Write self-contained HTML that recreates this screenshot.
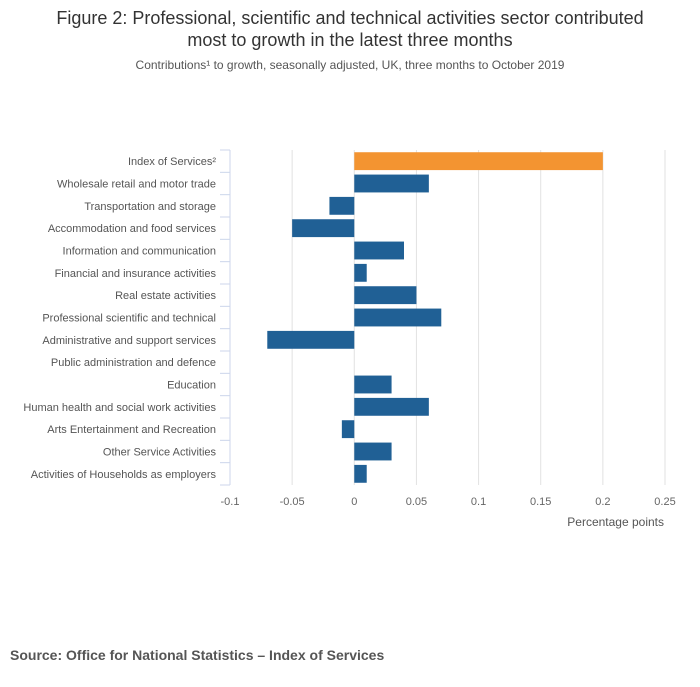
<!DOCTYPE html>
<html><head><meta charset="utf-8"><style>
body{margin:0;background:#fff;width:700px;height:682px;overflow:hidden;font-family:"Liberation Sans",sans-serif}
</style></head><body>
<svg width="700" height="682">
<text x="350" y="24" text-anchor="middle" font-size="18" fill="#333">Figure 2: Professional, scientific and technical activities sector contributed</text>
<text x="350" y="46" text-anchor="middle" font-size="18" fill="#333">most to growth in the latest three months</text>
<text x="350" y="69" text-anchor="middle" font-size="12" fill="#555">Contributions¹ to growth, seasonally adjusted, UK, three months to October 2019</text>
<g id="grid"></g><g id="bars"></g><g id="axes"></g>
<text x="664" y="526" text-anchor="end" font-size="12" fill="#555">Percentage points</text>
<text x="10" y="660" font-size="14" font-weight="bold" fill="#555">Source:  Office for National Statistics – Index of Services</text>
</svg>
<script>
const categories=["Index of Services²","Wholesale retail and motor trade","Transportation and storage","Accommodation and food services","Information and communication","Financial and insurance activities","Real estate activities","Professional scientific and technical","Administrative and support services","Public administration and defence","Education","Human health and social work activities","Arts Entertainment and Recreation","Other Service Activities","Activities of Households as employers"];
const values=[0.2,0.06,-0.02,-0.05,0.04,0.01,0.05,0.07,-0.07,0,0.03,0.06,-0.01,0.03,0.01];
const ticks=[-0.1,-0.05,0,0.05,0.1,0.15,0.2,0.25];
const tickLabels=["-0.1","-0.05","0","0.05","0.1","0.15","0.2","0.25"];
const NS="http://www.w3.org/2000/svg";
const x0=230,x1=665,vmin=-0.1,vmax=0.25,plotTop=150,plotBot=485;
const band=(plotBot-plotTop)/categories.length;
const X=v=>x0+(v-vmin)/(vmax-vmin)*(x1-x0);
const Y=i=>plotTop+i*band;
function mk(t,a,p){const e=document.createElementNS(NS,t);for(const k in a)e.setAttribute(k,a[k]);p.appendChild(e);return e;}
const g=document.getElementById('grid'),b=document.getElementById('bars'),ax=document.getElementById('axes');
ticks.forEach((t,i)=>{
 if(i>0){const l=mk('line',{x1:X(t),x2:X(t),y1:plotTop,y2:plotBot,stroke:'#e2e2e2'},g);
 
 }
 const tx=mk('text',{x:X(t),y:505,'text-anchor':'middle','font-size':11,fill:'#666'},ax);tx.textContent=tickLabels[i];
 
 
});
const al=mk('line',{x1:x0,x2:x0,y1:plotTop,y2:plotBot,stroke:'#ccd6eb'},ax);


for(let i=0;i<=categories.length;i++){const tk=mk('line',{x1:x0-10,x2:x0,y1:Y(i),y2:Y(i),stroke:'#ccd6eb'},ax);
 
 }
categories.forEach((c,i)=>{
 const v=values[i],h=band*0.8,y=Y(i)+band*0.1;
 const r=mk('rect',{x:Math.min(X(0),X(v)),y:y,width:Math.abs(X(v)-X(0)),height:h,fill:i==0?'#f39431':'#206095'},b);
 
 
 const t=mk('text',{x:216,y:Y(i)+band/2+4,'text-anchor':'end','font-size':11,fill:'#555'},ax);t.textContent=c;
 
 
});
</script>
</body></html>
